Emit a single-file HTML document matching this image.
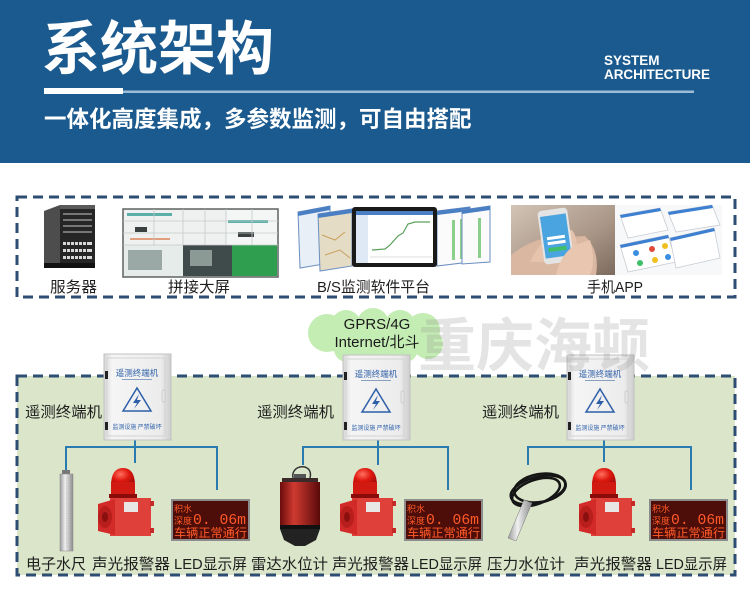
<!DOCTYPE html>
<html><head><meta charset="utf-8">
<style>
html,body{margin:0;padding:0;background:#fff;}
svg{display:block;}
text{font-family:"Liberation Sans","Noto Sans CJK SC",sans-serif;}
.cj{font-family:"Noto Sans CJK SC","Liberation Sans",sans-serif;}
.lbl{font-size:15px;fill:#1e1e1e;}
</style></head><body>
<svg width="750" height="600" viewBox="0 0 750 600" xmlns="http://www.w3.org/2000/svg">
<defs>
 <linearGradient id="cab" x1="0" x2="1" y1="0" y2="0">
  <stop offset="0" stop-color="#d6d6d6"/><stop offset="0.12" stop-color="#f5f5f5"/><stop offset="0.85" stop-color="#ececec"/><stop offset="1" stop-color="#cdcdcd"/>
 </linearGradient>
 <linearGradient id="steel" x1="0" x2="1">
  <stop offset="0" stop-color="#9a9a9a"/><stop offset="0.4" stop-color="#f0f0f0"/><stop offset="1" stop-color="#8a8a8a"/>
 </linearGradient>
 <linearGradient id="radar" x1="0" x2="1">
  <stop offset="0" stop-color="#6a0c0c"/><stop offset="0.35" stop-color="#cf3a30"/><stop offset="1" stop-color="#5a0a0a"/>
 </linearGradient>
 <radialGradient id="dome" cx="0.4" cy="0.35" r="0.7">
  <stop offset="0" stop-color="#ff7060"/><stop offset="0.5" stop-color="#e01a10"/><stop offset="1" stop-color="#a00a08"/>
 </radialGradient>
 <linearGradient id="photo" x1="0" x2="1" y1="0" y2="1">
  <stop offset="0" stop-color="#d2c4b6"/><stop offset="0.6" stop-color="#a89586"/><stop offset="1" stop-color="#7c6a5e"/>
 </linearGradient>
</defs>

<!-- HEADER -->
<rect x="0" y="0" width="750" height="163" fill="#1b5a8e"/>
<text class="cj" x="42" y="69" font-size="58" font-weight="bold" fill="#fff">系统架构</text>
<text x="604" y="65" font-size="13.5" font-weight="bold" fill="#fff">SYSTEM</text>
<text x="604" y="79" font-size="13.5" font-weight="bold" fill="#fff" textLength="106">ARCHITECTURE</text>
<rect x="44" y="90.5" width="650" height="2.5" fill="#9cbcd8"/>
<rect x="44" y="88" width="79" height="6" fill="#fff"/>
<text class="cj" x="44" y="127" font-size="22.5" font-weight="bold" fill="#fff">一体化高度集成，多参数监测，可自由搭配</text>

<!-- TOP BOX -->
<rect x="17" y="197" width="718" height="100" fill="#fff" stroke="#2e4d72" stroke-width="3" stroke-dasharray="10 6"/>

<!-- server -->
<polygon points="44,211 60,205 60,268 44,263" fill="#4d4d4d"/>
<rect x="60" y="205" width="35" height="63" fill="#262626"/>
<rect x="60" y="205" width="35" height="4" fill="#5a5a5a"/>
<g fill="#777"><rect x="63" y="213" width="29" height="2"/><rect x="63" y="219" width="29" height="2"/><rect x="63" y="225" width="29" height="2"/><rect x="63" y="231" width="29" height="2"/></g>
<g fill="#d8d8d8"><rect x="63" y="242" width="29" height="3"/><rect x="63" y="249" width="29" height="3"/><rect x="63" y="256" width="29" height="3"/></g>
<g fill="#262626"><rect x="66" y="242" width="1" height="17"/><rect x="70" y="242" width="1" height="17"/><rect x="74" y="242" width="1" height="17"/><rect x="78" y="242" width="1" height="17"/><rect x="82" y="242" width="1" height="17"/><rect x="86" y="242" width="1" height="17"/></g>
<rect x="44" y="263" width="51" height="5" fill="#111"/>

<!-- video wall -->
<rect x="123" y="209" width="155" height="68" fill="#eef1ef" stroke="#5d6261" stroke-width="1.5"/>
<rect x="124" y="245" width="59" height="31" fill="#e6ecea"/>
<rect x="128" y="250" width="34" height="20" fill="#9aa8a6"/>
<rect x="183" y="245" width="49" height="31" fill="#3f4b4a"/>
<rect x="190" y="250" width="22" height="16" fill="#8c9a96"/>
<rect x="232" y="245" width="45" height="31" fill="#2f9e4f"/>
<rect x="226" y="210" width="51" height="35" fill="#f3f6f4"/>
<g fill="#5ab0a8"><rect x="127" y="213" width="45" height="3"/><rect x="228" y="220" width="40" height="3"/><rect x="238" y="232" width="16" height="5" fill="#3a4040"/></g>
<rect x="135" y="227" width="12" height="5" fill="#3a4040"/>
<rect x="130" y="238" width="40" height="2" fill="#e0a080"/>
<g stroke="#c5caca" stroke-width="0.8"><line x1="154" y1="209" x2="154" y2="245"/><line x1="183" y1="209" x2="183" y2="245"/><line x1="205" y1="209" x2="205" y2="245"/><line x1="226" y1="209" x2="226" y2="245"/><line x1="252" y1="209" x2="252" y2="245"/><line x1="123" y1="221" x2="278" y2="221"/><line x1="123" y1="233" x2="278" y2="233"/><line x1="123" y1="245" x2="278" y2="245"/></g>

<!-- software platform -->
<polygon points="298,212 330,206 330,263 300,268" fill="#e9eff7" stroke="#6a8fc0" stroke-width="1"/>
<polygon points="298,212 330,206 330,210 298,216" fill="#4a7fc4"/>
<polygon points="318,214 352,209 352,266 320,271" fill="#e4dcc4" stroke="#6a8fc0" stroke-width="1"/>
<polygon points="318,214 352,209 352,213 318,218" fill="#4a7fc4"/>
<path d="M322,235 L335,240 L345,232 M325,255 L340,250 L350,258" stroke="#c9a060" stroke-width="1" fill="none"/>
<polygon points="437,211 470,207 470,262 437,266" fill="#fbfbfb" stroke="#6a8fc0" stroke-width="1"/>
<polygon points="437,211 470,207 470,211 437,215" fill="#4a7fc4"/>
<g fill="#8ccf8a"><rect x="452" y="220" width="3" height="40"/><rect x="460" y="219" width="3" height="40"/></g>
<polygon points="462,210 490,206 490,262 462,264" fill="#fbfbfb" stroke="#6a8fc0" stroke-width="1"/>
<polygon points="462,210 490,206 490,210 462,214" fill="#4a7fc4"/>
<g fill="#8ccf8a"><rect x="478" y="218" width="3" height="40"/></g>
<rect x="352" y="207" width="85" height="60" rx="3" fill="#1a1a1a"/>
<rect x="356" y="211" width="77" height="52" fill="#fff"/>
<rect x="356" y="211" width="77" height="4" fill="#4a7fc4"/>
<rect x="356" y="215" width="12" height="48" fill="#dfe8f5"/>
<path d="M372,250 L385,249 L390,245 L398,236 L403,233 L408,224 L415,222 L430,222" stroke="#5aa05a" stroke-width="1.2" fill="none"/>
<line x1="370" y1="257" x2="432" y2="257" stroke="#bbb" stroke-width="0.6"/>

<!-- phone photo -->
<rect x="511" y="205" width="104" height="70" fill="url(#photo)"/>
<path d="M511,275 L511,255 Q530,240 548,238 L585,236 Q600,250 596,275 Z" fill="#d9b7a0"/>
<path d="M530,262 Q540,240 556,232 L572,230 Q580,240 575,262 Z" fill="#e6c3ac"/>
<g transform="rotate(-8 556 238)">
<rect x="541" y="209" width="30" height="54" rx="4" fill="#e4e4e4"/>
<rect x="543" y="215" width="26" height="42" fill="#4aa4e0"/>
<rect x="547" y="236" width="18" height="3" fill="#fff"/>
<rect x="547" y="241" width="18" height="3" fill="#fff"/>
<rect x="547" y="247" width="18" height="4" fill="#3fbf6a"/>
</g>
<path d="M556,275 Q560,255 575,245 L590,240 Q596,262 590,275 Z" fill="#e8c6b0"/>

<!-- app screens -->
<rect x="615" y="205" width="107" height="70" fill="#f7f8fa"/>
<g stroke="#c8ccd2" stroke-width="0.8" fill="#fff">
<polygon points="620,215 660,208 668,230 628,238"/>
<polygon points="668,212 712,205 720,225 676,232"/>
<polygon points="620,245 668,235 676,262 628,272"/>
<polygon points="670,238 714,228 720,258 676,268"/>
</g>
<g fill="#3d7fd0"><polygon points="620,215 660,208 661,211 621,218"/><polygon points="668,212 712,205 713,208 669,215"/><polygon points="620,245 668,235 669,238 621,248"/><polygon points="670,238 714,228 715,231 671,241"/></g>
<g><circle cx="636" cy="253" r="3" fill="#3a8ee0"/><circle cx="652" cy="249" r="3" fill="#e04a3a"/><circle cx="665" cy="246" r="3" fill="#f0c020"/><circle cx="640" cy="263" r="3" fill="#3fbf6a"/><circle cx="655" cy="260" r="3" fill="#f0c020"/><circle cx="668" cy="257" r="3" fill="#3a8ee0"/></g>

<!-- top labels -->
<text class="lbl" x="50" y="292" textLength="47" lengthAdjust="spacingAndGlyphs">服务器</text>
<text class="lbl" x="168" y="292" textLength="62" lengthAdjust="spacingAndGlyphs">拼接大屏</text>
<text class="lbl" x="317" y="292" textLength="113" lengthAdjust="spacingAndGlyphs">B/S监测软件平台</text>
<text class="lbl" x="587" y="292" textLength="56" lengthAdjust="spacingAndGlyphs">手机APP</text>

<!-- BOTTOM BOX -->
<rect x="17" y="376" width="718" height="199" fill="#dae5c9" stroke="#2e4d72" stroke-width="3" stroke-dasharray="10 6"/>

<!-- cloud -->
<g fill="#c4edb4">
<ellipse cx="377" cy="337" rx="62" ry="20"/>
<circle cx="327" cy="333" r="19"/>
<circle cx="346" cy="325" r="15"/>
<circle cx="373" cy="324" r="16"/>
<circle cx="400" cy="325" r="15"/>
<circle cx="423" cy="330" r="17"/>
<circle cx="428" cy="344" r="15"/>
<circle cx="405" cy="349" r="13"/>
<circle cx="376" cy="350" r="12"/>
<circle cx="347" cy="349" r="13"/>
</g>
<text x="377" y="329" font-size="15" fill="#1a1a1a" text-anchor="middle">GPRS/4G</text>
<text x="377" y="347" font-size="15" fill="#1a1a1a" text-anchor="middle">Internet/北斗</text>

<!-- connector lines -->
<g stroke="#2a7bb0" stroke-width="2" fill="none">
<path d="M66,473 V447 H217 V490 M135,440 V463"/>
<path d="M303,465 V447 H448 V490 M378,440 V465"/>
<path d="M528,465 V447 H691 V490 M604,440 V462"/>
</g>

<!-- cabinets -->
<g transform="translate(104,354)">
<rect x="0" y="0" width="67" height="86" fill="url(#cab)" stroke="#c2c2c2"/>
<rect x="3" y="4" width="58" height="78" fill="none" stroke="#d3d3d3"/>
<rect x="1" y="17" width="3" height="8" fill="#222"/><rect x="1" y="68" width="3" height="8" fill="#222"/>
<rect x="58" y="36" width="3" height="12" rx="1" fill="#e6e6e6" stroke="#b5b5b5" stroke-width="0.5"/>
<text class="cj" x="33" y="22" font-size="8.5" fill="#2d5fa8" text-anchor="middle">遥测终端机</text>
<rect x="18" y="25" width="30" height="1" fill="#8aa0c0"/>
<polygon points="33,34 19,57 47,57" fill="none" stroke="#2d5fa8" stroke-width="1.5"/>
<path d="M35,40 L29,49 L33,49 L30,55 L37,46 L33,46 Z" fill="#2d5fa8"/>
<text class="cj" x="33" y="75" font-size="6" fill="#2d5fa8" text-anchor="middle">监测设施 严禁破坏</text>
</g>
<g transform="translate(343,355)">
<rect x="0" y="0" width="67" height="85" fill="url(#cab)" stroke="#c2c2c2"/>
<rect x="3" y="4" width="58" height="77" fill="none" stroke="#d3d3d3"/>
<rect x="1" y="17" width="3" height="8" fill="#222"/><rect x="1" y="67" width="3" height="8" fill="#222"/>
<rect x="58" y="36" width="3" height="12" rx="1" fill="#e6e6e6" stroke="#b5b5b5" stroke-width="0.5"/>
<text class="cj" x="33" y="22" font-size="8.5" fill="#2d5fa8" text-anchor="middle">遥测终端机</text>
<rect x="18" y="25" width="30" height="1" fill="#8aa0c0"/>
<polygon points="33,34 19,57 47,57" fill="none" stroke="#2d5fa8" stroke-width="1.5"/>
<path d="M35,40 L29,49 L33,49 L30,55 L37,46 L33,46 Z" fill="#2d5fa8"/>
<text class="cj" x="33" y="75" font-size="6" fill="#2d5fa8" text-anchor="middle">监测设施 严禁破坏</text>
</g>
<g transform="translate(567,355)">
<rect x="0" y="0" width="67" height="85" fill="url(#cab)" stroke="#c2c2c2"/>
<rect x="3" y="4" width="58" height="77" fill="none" stroke="#d3d3d3"/>
<rect x="1" y="17" width="3" height="8" fill="#222"/><rect x="1" y="67" width="3" height="8" fill="#222"/>
<rect x="58" y="36" width="3" height="12" rx="1" fill="#e6e6e6" stroke="#b5b5b5" stroke-width="0.5"/>
<text class="cj" x="33" y="22" font-size="8.5" fill="#2d5fa8" text-anchor="middle">遥测终端机</text>
<rect x="18" y="25" width="30" height="1" fill="#8aa0c0"/>
<polygon points="33,34 19,57 47,57" fill="none" stroke="#2d5fa8" stroke-width="1.5"/>
<path d="M35,40 L29,49 L33,49 L30,55 L37,46 L33,46 Z" fill="#2d5fa8"/>
<text class="cj" x="33" y="75" font-size="6" fill="#2d5fa8" text-anchor="middle">监测设施 严禁破坏</text>
</g>

<!-- terminal labels -->
<text class="lbl" x="25" y="417" textLength="77" lengthAdjust="spacingAndGlyphs">遥测终端机</text>
<text class="lbl" x="257" y="417" textLength="77" lengthAdjust="spacingAndGlyphs">遥测终端机</text>
<text class="lbl" x="482" y="417" textLength="77" lengthAdjust="spacingAndGlyphs">遥测终端机</text>

<!-- water gauge -->
<rect x="62" y="470" width="8" height="4" fill="#777"/>
<rect x="60" y="474" width="13" height="77" fill="url(#steel)" stroke="#8a8a8a" stroke-width="0.5"/>
<line x1="66.5" y1="478" x2="66.5" y2="548" stroke="#b0b0b0" stroke-width="0.6" stroke-dasharray="1 1.5"/>

<!-- alarms -->
<g transform="translate(98,468)">
<path d="M13,18 Q13,0 25,0 Q37,0 37,18 Z" fill="url(#dome)"/>
<rect x="13" y="14" width="24" height="13" fill="#d01a12"/>
<rect x="11" y="26" width="28" height="4" fill="#8a0c0a"/>
<rect x="12" y="30" width="41" height="38" fill="#e0403a"/>
<polygon points="0,36 17,31 17,67 0,63" fill="#d22a28"/>
<ellipse cx="7" cy="49" rx="7" ry="11" fill="#b81e1c"/>
<ellipse cx="7" cy="49" rx="3" ry="5" fill="#8a1010"/>
<rect x="26" y="34" width="14" height="10" fill="#e9e6e6"/>
<rect x="52" y="33" width="4" height="5" fill="#c52a28"/><rect x="52" y="60" width="4" height="5" fill="#c52a28"/>
</g>
<g transform="translate(340,468)">
<path d="M13,18 Q13,0 25,0 Q37,0 37,18 Z" fill="url(#dome)"/>
<rect x="13" y="14" width="24" height="13" fill="#d01a12"/>
<rect x="11" y="26" width="28" height="4" fill="#8a0c0a"/>
<rect x="12" y="30" width="41" height="38" fill="#e0403a"/>
<polygon points="0,36 17,31 17,67 0,63" fill="#d22a28"/>
<ellipse cx="7" cy="49" rx="7" ry="11" fill="#b81e1c"/>
<ellipse cx="7" cy="49" rx="3" ry="5" fill="#8a1010"/>
<rect x="26" y="34" width="14" height="10" fill="#e9e6e6"/>
<rect x="52" y="33" width="4" height="5" fill="#c52a28"/><rect x="52" y="60" width="4" height="5" fill="#c52a28"/>
</g>
<g transform="translate(579,468)">
<path d="M13,18 Q13,0 25,0 Q37,0 37,18 Z" fill="url(#dome)"/>
<rect x="13" y="14" width="24" height="13" fill="#d01a12"/>
<rect x="11" y="26" width="28" height="4" fill="#8a0c0a"/>
<rect x="12" y="30" width="41" height="38" fill="#e0403a"/>
<polygon points="0,36 17,31 17,67 0,63" fill="#d22a28"/>
<ellipse cx="7" cy="49" rx="7" ry="11" fill="#b81e1c"/>
<ellipse cx="7" cy="49" rx="3" ry="5" fill="#8a1010"/>
<rect x="26" y="34" width="14" height="10" fill="#e9e6e6"/>
<rect x="52" y="33" width="4" height="5" fill="#c52a28"/><rect x="52" y="60" width="4" height="5" fill="#c52a28"/>
</g>

<!-- LED screens -->
<g transform="translate(171,499)">
<rect x="0" y="0" width="79" height="42" fill="#8c8c8c"/>
<rect x="2" y="2" width="75" height="38" fill="#4d0d08"/>
<text class="cj" x="3" y="13" font-size="9" fill="#ff5a28">积水</text>
<text class="cj" x="3" y="25" font-size="9" fill="#ff5a28">深度</text>
<text x="22" y="25" font-size="15" fill="#ff5a28" textLength="53" lengthAdjust="spacingAndGlyphs" style="font-family:'Liberation Mono',monospace">0. 06m</text>
<text class="cj" x="3" y="38" font-size="12" fill="#ff5a28" textLength="73" lengthAdjust="spacingAndGlyphs">车辆正常通行</text>
</g>
<g transform="translate(404,499)">
<rect x="0" y="0" width="79" height="42" fill="#8c8c8c"/>
<rect x="2" y="2" width="75" height="38" fill="#4d0d08"/>
<text class="cj" x="3" y="13" font-size="9" fill="#ff5a28">积水</text>
<text class="cj" x="3" y="25" font-size="9" fill="#ff5a28">深度</text>
<text x="22" y="25" font-size="15" fill="#ff5a28" textLength="53" lengthAdjust="spacingAndGlyphs" style="font-family:'Liberation Mono',monospace">0. 06m</text>
<text class="cj" x="3" y="38" font-size="12" fill="#ff5a28" textLength="73" lengthAdjust="spacingAndGlyphs">车辆正常通行</text>
</g>
<g transform="translate(649,499)">
<rect x="0" y="0" width="79" height="42" fill="#8c8c8c"/>
<rect x="2" y="2" width="75" height="38" fill="#4d0d08"/>
<text class="cj" x="3" y="13" font-size="9" fill="#ff5a28">积水</text>
<text class="cj" x="3" y="25" font-size="9" fill="#ff5a28">深度</text>
<text x="22" y="25" font-size="15" fill="#ff5a28" textLength="53" lengthAdjust="spacingAndGlyphs" style="font-family:'Liberation Mono',monospace">0. 06m</text>
<text class="cj" x="3" y="38" font-size="12" fill="#ff5a28" textLength="73" lengthAdjust="spacingAndGlyphs">车辆正常通行</text>
</g>

<!-- radar level meter -->
<path d="M293,478 C290,464 314,462 310,478" stroke="#333" stroke-width="1.5" fill="none"/>
<rect x="294" y="474" width="12" height="5" fill="#555"/>
<rect x="282" y="478" width="36" height="5" fill="#3a2a2a"/>
<rect x="280" y="482" width="40" height="44" fill="url(#radar)"/>
<rect x="280" y="525" width="40" height="4" fill="#111"/>
<path d="M280,529 L320,529 L316,540 L305,546 L295,546 L284,540 Z" fill="#222"/>

<!-- pressure sensor -->
<g fill="none" stroke="#151515" stroke-width="2.5">
<ellipse cx="538" cy="490" rx="28" ry="13" transform="rotate(-15 538 490)"/>
<ellipse cx="536" cy="492" rx="25" ry="12" transform="rotate(-20 536 492)"/>
<ellipse cx="540" cy="488" rx="26" ry="14" transform="rotate(-10 540 488)"/>
</g>
<polygon points="524,500 532,503 516,541 508,538" fill="url(#steel)" stroke="#777" stroke-width="0.5"/>

<!-- bottom labels -->
<text class="lbl" x="26" y="569" textLength="60" lengthAdjust="spacingAndGlyphs">电子水尺</text>
<text class="lbl" x="92" y="569" textLength="78" lengthAdjust="spacingAndGlyphs">声光报警器</text>
<text class="lbl" x="174" y="569" textLength="73" lengthAdjust="spacingAndGlyphs">LED显示屏</text>
<text class="lbl" x="251" y="569" textLength="77" lengthAdjust="spacingAndGlyphs">雷达水位计</text>
<text class="lbl" x="332" y="569" textLength="77" lengthAdjust="spacingAndGlyphs">声光报警器</text>
<text class="lbl" x="411" y="569" textLength="71" lengthAdjust="spacingAndGlyphs">LED显示屏</text>
<text class="lbl" x="487" y="569" textLength="78" lengthAdjust="spacingAndGlyphs">压力水位计</text>
<text class="lbl" x="574" y="569" textLength="78" lengthAdjust="spacingAndGlyphs">声光报警器</text>
<text class="lbl" x="656" y="569" textLength="71" lengthAdjust="spacingAndGlyphs">LED显示屏</text>

<!-- watermark -->
<text class="cj" x="418" y="366" font-size="58" font-weight="bold" fill="#8a8a8a" opacity="0.22">重庆海顿</text>
</svg>
</body></html>
